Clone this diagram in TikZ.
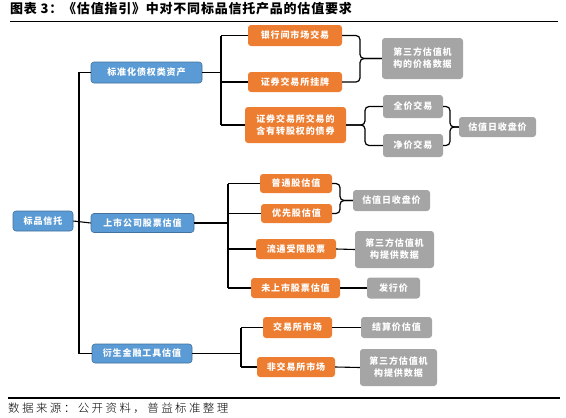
\documentclass[tikz,border=0pt]{standalone}
\usepackage{fontspec}
\setmainfont{Noto Sans CJK SC}
\newfontfamily\nodefont[LetterSpace=10]{Noto Sans CJK SC}
\newfontfamily\titlefont[LetterSpace=6]{Noto Sans CJK SC}
\newfontfamily\srcfont[LetterSpace=21]{Noto Sans CJK SC Light}
\usetikzlibrary{calc}
\definecolor{cblue}{HTML}{5B9BD5}
\definecolor{cblueb}{HTML}{41719C}
\definecolor{corange}{HTML}{ED7D31}
\definecolor{cgray}{HTML}{A5A5A5}
\tikzset{
  box/.style={rounded corners=3pt, text=white, inner sep=0pt, align=center,
    font=\nodefont\bfseries\fontsize{9}{12}\selectfont},
  bluebox/.style={box, fill=cblue, draw=cblueb, line width=0.6pt},
  orangebox/.style={box, fill=corange},
  graybox/.style={box, fill=cgray},
  conn/.style={line width=1.1pt, black},
  brace/.style={line width=1.2pt, black, rounded corners=4pt},
}
\begin{document}
\begin{tikzpicture}[x=1pt,y=-1pt]
\useasboundingbox (0,0) rectangle (566,418);
% title
\node[anchor=west, font=\titlefont\bfseries\fontsize{13}{15}\selectfont, inner sep=0pt] (title) at (10,9) {图表 3：《估值指引》中对不同标品信托产品的估值要求};
\draw[line width=1.8pt] (10,21.5) coordinate (tl1) -- (558,21.5) coordinate (tl2);
% bottom
\draw[line width=1.8pt] (8,398) coordinate (bl1) -- (560,398) coordinate (bl2);
\node[anchor=west, font=\srcfont\fontsize{11.5}{13}\selectfont, inner sep=0pt] (src) at (8,408) {数据来源：公开资料，普益标准整理};

% level 0/1
\node[bluebox, minimum width=60pt, minimum height=20pt] (root) at (43,221) {标品信托};
\node[bluebox, minimum width=111pt, minimum height=21pt] (std) at (146.5,72.5) {标准化债权类资产};
\node[bluebox, minimum width=103pt, minimum height=19pt] (stock) at (142.5,223) {上市公司股票估值};
\node[bluebox, minimum width=100pt, minimum height=19pt] (deriv) at (142,353.5) {衍生金融工具估值};

% group 1
\node[orangebox, minimum width=94pt, minimum height=21pt] (bank) at (295,35.5) {银行间市场交易};
\node[orangebox, minimum width=94pt, minimum height=20pt] (exch) at (295,82) {证券交易所挂牌};
\node[orangebox, minimum width=101pt, minimum height=36pt] (conv) at (295.5,125) {证券交易所交易的\\含有转股权的债券};
\node[graybox, minimum width=81pt, minimum height=41pt] (g1) at (422.5,58.5) {第三方估值机\\构的价格数据};
\node[graybox, minimum width=60pt, minimum height=23pt] (full) at (413,106.5) {全价交易};
\node[graybox, minimum width=60pt, minimum height=23pt] (net) at (413,145.5) {净价交易};
\node[graybox, minimum width=77pt, minimum height=20pt] (close1) at (497.5,127) {估值日收盘价};

% group 2
\node[orangebox, minimum width=72pt, minimum height=19pt] (common) at (296,183.5) {普通股估值};
\node[orangebox, minimum width=71pt, minimum height=19pt] (pref) at (296.5,213.5) {优先股估值};
\node[orangebox, minimum width=80pt, minimum height=20pt] (restr) at (296,249) {流通受限股票};
\node[orangebox, minimum width=89pt, minimum height=20pt] (unl) at (295.5,288) {未上市股票估值};
\node[graybox, minimum width=77pt, minimum height=21pt] (close2) at (391.5,200.5) {估值日收盘价};
\node[graybox, minimum width=79pt, minimum height=37pt] (g2) at (394.5,249.5) {第三方估值机\\构提供数据};
\node[graybox, minimum width=53pt, minimum height=21pt] (issue) at (393.5,288) {发行价};

% group 3
\node[orangebox, minimum width=69pt, minimum height=21pt] (exm) at (297.5,327.5) {交易所市场};
\node[orangebox, minimum width=78pt, minimum height=20pt] (otc) at (296,367) {非交易所市场};
\node[graybox, minimum width=71pt, minimum height=21pt] (settle) at (396.5,327.5) {结算价估值};
\node[graybox, minimum width=77pt, minimum height=37pt] (g3) at (398.5,367.5) {第三方估值机\\构提供数据};

% junction coordinates
\coordinate (tr) at (79,0);
\coordinate (j1) at (221,0);
\coordinate (j2) at (228,0);
\coordinate (j3) at (241,0);
\coordinate (b1) at (360,0);
\coordinate (b2) at (365,0);
\coordinate (b3) at (450,0);
\coordinate (b4) at (340,0);

% trunk
\draw[conn] (std.west) -- (std.west -| tr) -- (deriv.west -| tr) -- (deriv.west);
\draw[conn] (root.east) -- (stock.west);
% group 1 tree
\draw[conn] (std.east) -- (std.east -| j1);
\draw[conn] (bank.west -| j1) -- (conv.west -| j1);
\draw[conn] (bank.west -| j1) -- (bank.west);
\draw[conn] (exch.west -| j1) -- (exch.west);
\draw[conn] (conv.west -| j1) -- (conv.west);
% group 2 tree
\draw[conn] (stock.east) -- (stock.east -| j2);
\draw[conn] (common.west -| j2) -- (unl.west -| j2);
\draw[conn] (common.west -| j2) -- (common.west);
\draw[conn] (pref.west -| j2) -- (pref.west);
\draw[conn] (restr.west -| j2) -- (restr.west);
\draw[conn] (unl.west -| j2) -- (unl.west);
% group 3 tree
\draw[conn] (deriv.east) -- (deriv.east -| j3);
\draw[conn] (exm.west -| j3) -- (otc.west -| j3);
\draw[conn] (exm.west -| j3) -- (exm.west);
\draw[conn] (otc.west -| j3) -- (otc.west);

% braces
\draw[brace] (bank.east) -| (g1.west -| b1) -- (g1.west);
\draw[brace] (exch.east) -| (g1.west -| b1) -- (g1.west);
\draw[brace] (conv.east) -- (conv.east -| b2) |- (full.west);
\draw[brace] (conv.east) -- (conv.east -| b2) |- (net.west);
\draw[brace] (full.east) -| (close1.west -| b3) -- (close1.west);
\draw[brace] (net.east) -| (close1.west -| b3) -- (close1.west);
\draw[brace] (common.east) -| (close2.west -| b4) -- (close2.west);
\draw[brace] (pref.east) -| (close2.west -| b4) -- (close2.west);
% simple links
\draw[conn] (restr.east) -- (g2.west);
\draw[conn] (unl.east) -- (issue.west);
\draw[conn] (exm.east) -- (settle.west);
\draw[conn] (otc.east) -- (g3.west);
\end{tikzpicture}
\end{document}
